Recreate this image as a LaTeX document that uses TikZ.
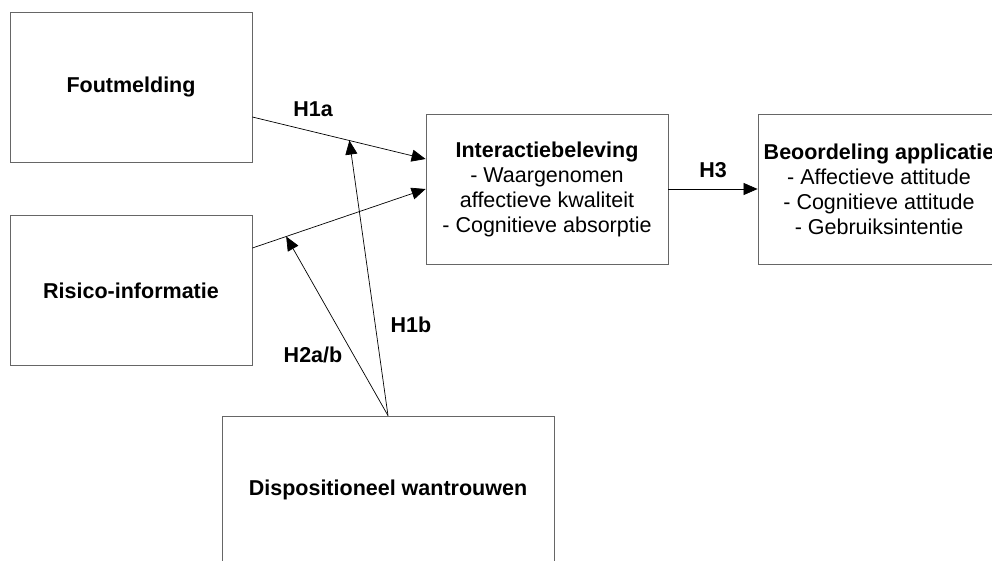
\documentclass[tikz,border=0pt]{standalone}
\usepackage{fontspec}
\setmainfont{Liberation Sans}
\usetikzlibrary{                          % TikZ libraries
                calc,                     % .
                arrows.meta}

\begin{document}
\begin{tikzpicture}[x=1pt,y=-1pt
                    ]
                % define styles
\tikzset{factor/.style={rectangle,
                       draw=black!60,
                       line width=0.8pt,
                       fill=white,
                       inner sep=0,
                       minimum width=242pt,
                       minimum height=150pt,
                       align=center,
                       font=\fontsize{21.5}{25}\selectfont,
                       },
         hyp/.style={font=\fontsize{21.5}{25}\selectfont\bfseries,
                       inner sep=0,
                       },
         path/.style={draw=black,
                       line width=0.7pt,
                       -{Triangle[length=14pt,width=12pt]},
                       }
}

% canvas
\useasboundingbox (0.0000,0.0000) rectangle (992.0000,560.0000);
\clip (0.0000,0.0000) rectangle (992.0000,560.0000);

% nodes
\node[factor]   (fout)   at  (131.0000,87.0000)    {\textbf{Foutmelding}};
\node[factor]   (risk)   at  (131.0000,290.5000)   {\textbf{Risico-informatie}};
\node[factor]   (inter)  at  (547.0000,189.0000)   {\textbf{Interactiebeleving}\\
                                                    - Waargenomen\\
                                                    affectieve kwaliteit\\
                                                    - Cognitieve absorptie};
\node[factor]   (beoord) at  (879.0000,189.0000)   {\textbf{Beoordeling applicatie}\\
                                                    - Affectieve attitude\\
                                                    - Cognitieve attitude\\
                                                    - Gebruiksintentie};
\node[factor,minimum width=332pt,minimum height=148pt]
                (dispo)  at  (388.0000,490.0000)   {\textbf{Dispositioneel wantrouwen}};

% end points on the borders
\coordinate (fout-out)  at ($(fout.east)+(0,30)$);
\coordinate (risk-out)  at ($(risk.east)+(0,-42.5)$);
\coordinate (inter-in1) at ($(inter.west)+(0,-30)$);
\coordinate (inter-in2) at (inter.west);

% moderation targets on the main paths
\coordinate (h1a-mid) at ($(fout-out)!0.56!(inter-in1)$);
\coordinate (h2a-mid) at ($(risk-out)!0.195!(inter-in2)$);

% paths
\draw [path] (fout-out) -- (inter-in1);
\draw [path] (risk-out) -- (inter-in2);
\draw [path] (inter.east) -- (beoord.west);
\draw [path] (dispo.north) -- (h1a-mid);
\draw [path] (dispo.north) -- (h2a-mid);

% labels
\node[hyp] (l-h1a) at (313.0000,109.0000) {H1a};
\node[hyp] (l-h3)  at (713.0000,170.0000) {H3};
\node[hyp] (l-h1b) at (411.0000,325.0000) {H1b};
\node[hyp] (l-h2)  at (313.0000,355.0000) {H2a/b};

\end{tikzpicture}
\end{document}
